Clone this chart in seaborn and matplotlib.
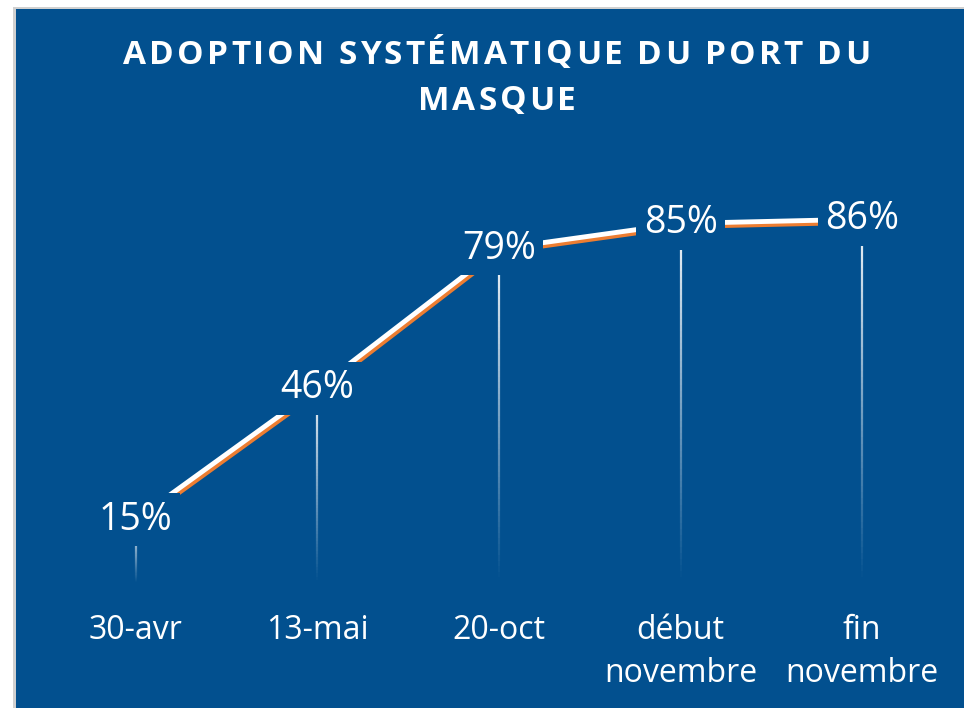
import numpy as np
import pandas as pd
import matplotlib
matplotlib.use("Agg")
import matplotlib.pyplot as plt
import matplotlib.patheffects as pe
from matplotlib.collections import LineCollection
from matplotlib.patches import Rectangle
import seaborn as sns

# ── data ─────────────────────────────────────
categories = ["30-avr", "13-mai", "20-oct", "début\nnovembre", "fin\nnovembre"]
values = [15, 46, 79, 85, 86]
title_lines = ["ADOPTION SYSTÉMATIQUE DU PORT DU", "MASQUE"]

BLUE = "#02508F"
ORANGE = "#ED7D31"

sns.set_theme(style="white")
plt.rcParams["font.family"] = ["Open Sans", "DejaVu Sans"]

W, H = 964, 708
fig = plt.figure(figsize=(W / 100, H / 100), dpi=100)
fig.patch.set_facecolor("white")

# background panel with a faint grey edge
fig.patches.append(Rectangle((13 / W, 0), 1, 701 / H, transform=fig.transFigure,
                             facecolor="#D0D0D0", edgecolor="none", zorder=-2))
fig.patches.append(Rectangle((16 / W, 0), 1, 699 / H, transform=fig.transFigure,
                             facecolor=BLUE, edgecolor="none", zorder=-1))

ax = fig.add_axes([45 / W, 125 / H, 908 / W, 423 / H])
ax.set_facecolor("none")

df = pd.DataFrame({"x": np.arange(len(categories)), "val": values})

# fading drop lines
n_seg = 60
for x, v in zip(df["x"], df["val"]):
    ys = np.linspace(v, 0, n_seg + 1)
    segs = [[(x, ys[i]), (x, ys[i + 1])] for i in range(n_seg)]
    alphas = np.linspace(0.95, 0.0, n_seg)
    cols = [(1, 1, 1, a) for a in alphas]
    ax.add_collection(LineCollection(segs, colors=cols, linewidths=1.6, zorder=1))

# line with orange shadow
sns.lineplot(data=df, x="x", y="val", ax=ax, color="white", linewidth=3.5, zorder=2,
             path_effects=[pe.SimpleLineShadow(offset=(1.2, -2.2), shadow_color=ORANGE, alpha=1),
                           pe.Normal()])

for x, v in zip(df["x"], df["val"]):
    ax.text(x, v, f"{v}%", ha="center", va="center", fontsize=27, color="white", zorder=3,
            bbox=dict(boxstyle="square,pad=0.2", facecolor=BLUE, edgecolor="none"))

ax.set_xlim(-0.5, len(categories) - 0.5)
ax.set_ylim(0, 100)
ax.set_xticks(df["x"])
ax.set_xticklabels(categories, fontsize=23, color="white")
for lbl in ax.get_xticklabels():
    lbl.set_linespacing(1.4)
ax.tick_params(axis="x", length=0, pad=22)
ax.set_yticks([])
ax.set_xlabel("")
ax.set_ylabel("")
sns.despine(ax=ax, left=True, bottom=True)

# letter-spaced title, drawn char by char
renderer = fig.canvas.get_renderer()
tprops = dict(fontsize=24, fontweight="bold", color="white")
spacing = 3.0  # px between letters


def char_width(c):
    if c == " ":
        a = fig.text(0, 0, "a a", **tprops).get_window_extent(renderer).width
        b = fig.text(0, 0, "aa", **tprops).get_window_extent(renderer).width
        for t in fig.texts[-2:]:
            t.remove()
        return a - b
    t = fig.text(0, 0, c, **tprops)
    w = t.get_window_extent(renderer).width
    t.remove()
    return w


for line, yc in zip(title_lines, [55, 101]):
    widths = [char_width(c) for c in line]
    total = sum(widths) + spacing * (len(line) - 1)
    xp = 497 - total / 2
    for c, w in zip(line, widths):
        if c != " ":
            fig.text(xp / W, 1 - yc / H, c, ha="left", va="center", **tprops)
        xp += w + spacing

plt.savefig("out.png", dpi=100, facecolor=fig.get_facecolor())
